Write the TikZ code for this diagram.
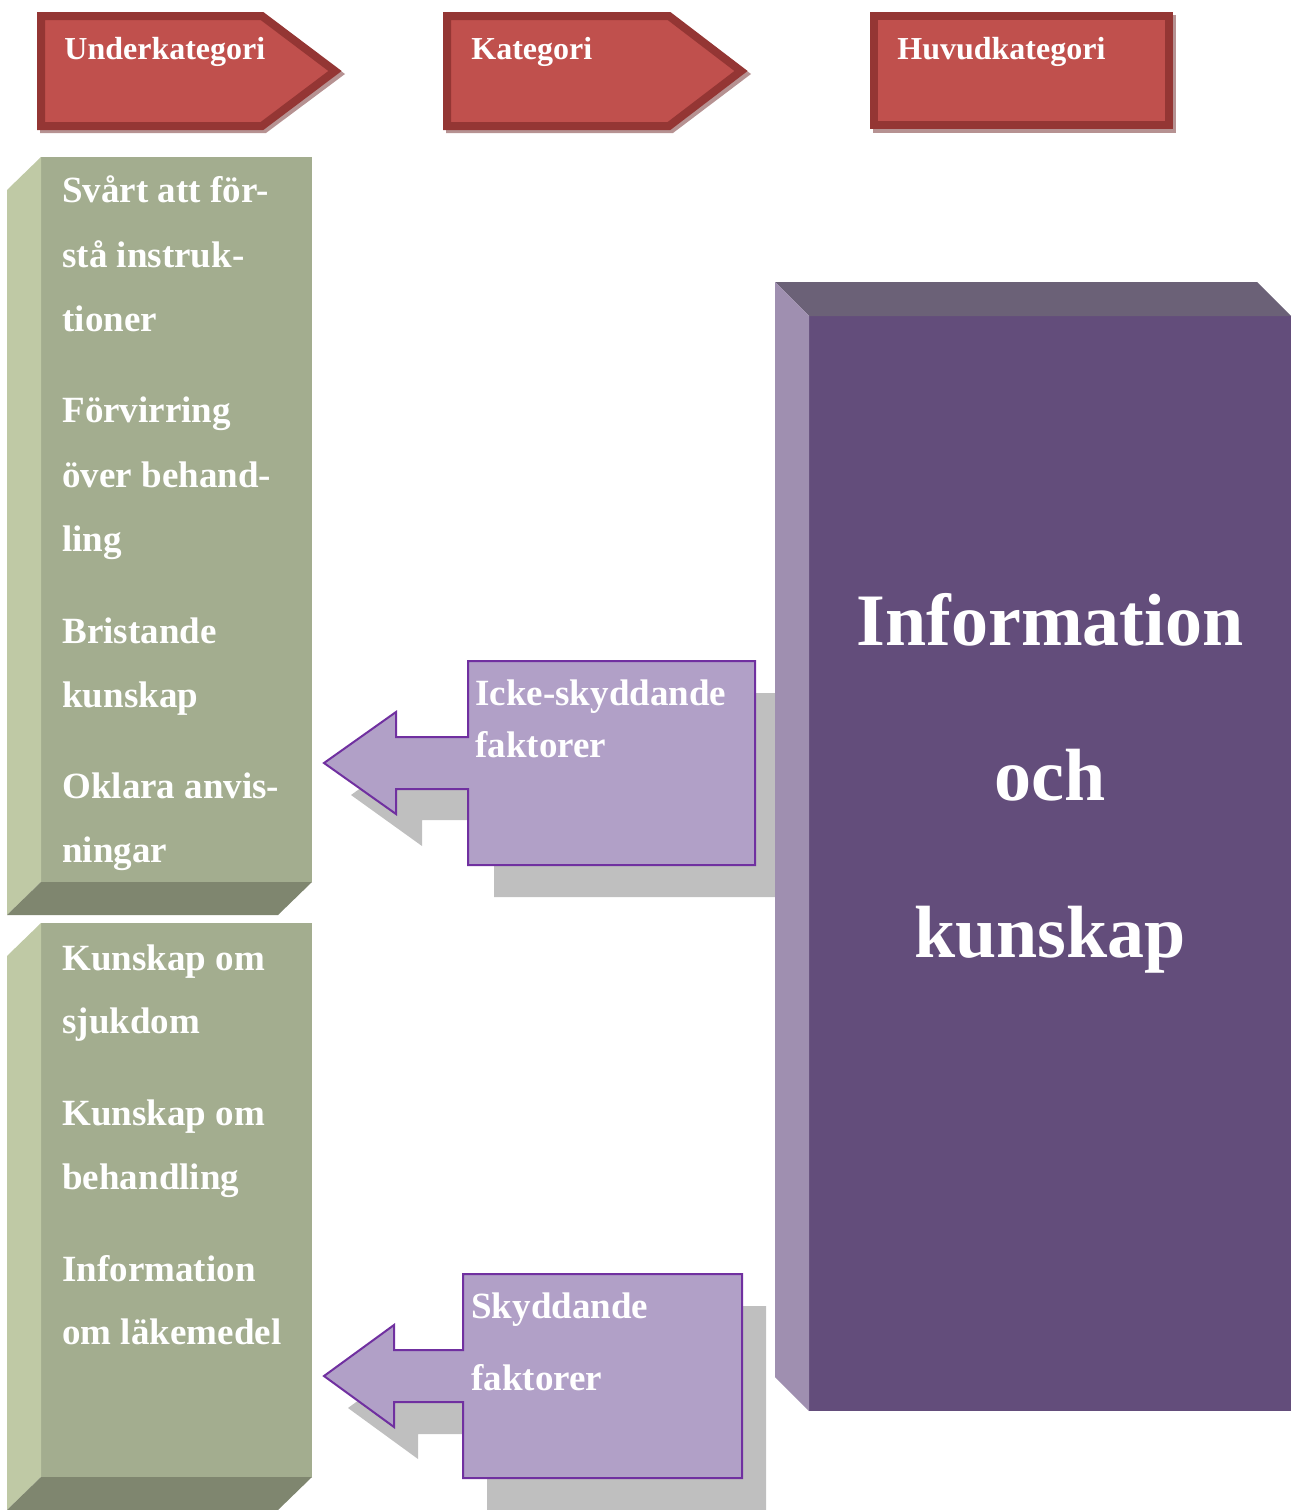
\documentclass[tikz,border=0pt]{standalone}
\usepackage{fontspec}
\setmainfont{Liberation Serif}
\definecolor{hdrfill}{HTML}{C0504D}
\definecolor{hdrline}{HTML}{943634}
\definecolor{hdrgrey}{RGB}{182,146,146}
\definecolor{grnfront}{HTML}{A3AD8F}
\definecolor{grnside}{HTML}{BFC9A5}
\definecolor{grnbottom}{HTML}{7F866F}
\definecolor{vioFront}{HTML}{634D7B}
\definecolor{vioTop}{HTML}{6B6177}
\definecolor{vioSide}{HTML}{9F8FB0}
\definecolor{callfill}{HTML}{B1A0C7}
\definecolor{callline}{HTML}{7030A0}
\definecolor{dropgrey}{HTML}{BFBFBF}
\tikzset{
  hdrtext/.style={anchor=base west, inner sep=0pt, text=white, font=\fontsize{16}{19}\selectfont\bfseries},
  itemtext/.style={anchor=base west, inner sep=0pt, text=white, font=\fontsize{18.5}{22}\selectfont\bfseries},
  bigtext/.style={anchor=base, inner sep=0pt, text=white, font=\fontsize{37}{44}\selectfont\bfseries},
  hdrshape/.style={fill=hdrfill, draw=hdrline, line width=4pt, miter limit=10},
  callshape/.style={fill=callfill, draw=callline, line width=1pt},
}
\begin{document}
\begin{tikzpicture}[x=0.5pt,y=-0.5pt]
\useasboundingbox (0,0) rectangle (1292,1510);

% ---- header tags ----
\fill[hdrgrey] (40,15) -- (266,15) -- (345,74) -- (266,133) -- (40,133) -- cycle;
\draw[hdrshape] (41,16) -- (262,16) -- (335,71) -- (262,126) -- (41,126) -- cycle;
\node[hdrtext] (hUnder) at (64,59) {Underkategori};

\fill[hdrgrey] (446,15) -- (673,15) -- (751,74) -- (673,133) -- (446,133) -- cycle;
\draw[hdrshape] (447,16) -- (669,16) -- (741,71) -- (669,126) -- (447,126) -- cycle;
\node[hdrtext] (hKat) at (471,59) {Kategori};

\fill[hdrgrey] (873,15) rectangle (1176,133);
\draw[hdrshape] (874,16) rectangle (1169,125);
\node[hdrtext] (hHuvud) at (897,59) {Huvudkategori};

% ---- green blocks ----
\fill[grnfront] (41,157) rectangle (312,882);
\fill[grnside] (7,190) -- (41,157) -- (41,882) -- (7,915) -- cycle;
\fill[grnbottom] (41,882) -- (312,882) -- (278,915) -- (7,915) -- cycle;

\fill[grnfront] (41,923) rectangle (312,1477);
\fill[grnside] (7,956) -- (41,923) -- (41,1477) -- (7,1510) -- cycle;
\fill[grnbottom] (41,1477) -- (312,1477) -- (278,1510) -- (7,1510) -- cycle;

\node[itemtext] (a1) at (62,202) {Svårt att för-};
\node[itemtext] (a2) at (62,267) {stå instruk-};
\node[itemtext] (a3) at (62,331) {tioner};
\node[itemtext] (b1) at (62,422) {Förvirring};
\node[itemtext] (b2) at (62,487) {över behand-};
\node[itemtext] (b3) at (62,551) {ling};
\node[itemtext] (c1) at (62,643) {Bristande};
\node[itemtext] (c2) at (62,707) {kunskap};
\node[itemtext] (d1) at (62,798) {Oklara anvis-};
\node[itemtext] (d2) at (62,862) {ningar};

\node[itemtext] (e1) at (62,970) {Kunskap om};
\node[itemtext] (e2) at (62,1033) {sjukdom};
\node[itemtext] (f1) at (62,1125) {Kunskap om};
\node[itemtext] (f2) at (62,1189) {behandling};
\node[itemtext] (g1) at (62,1281) {Information};
\node[itemtext] (g2) at (62,1344) {om läkemedel};

% ---- callout drop shadows ----
\fill[dropgrey] (422,739) -- (494,739) -- (494,693) -- (782,693) -- (782,897) -- (494,897)
  -- (494,820) -- (422,820) -- (422,846) -- (351,795) -- (422,744) -- cycle;
\fill[dropgrey] (418,1382) -- (487,1382) -- (487,1306) -- (766,1306) -- (766,1510) -- (487,1510)
  -- (487,1434) -- (418,1434) -- (418,1459) -- (348,1408) -- (418,1357) -- cycle;

% ---- main category block ----
\fill[vioFront] (809,316) rectangle (1291,1411);
\fill[vioTop] (775,282) -- (1257,282) -- (1291,316) -- (809,316) -- cycle;
\fill[vioSide] (775,282) -- (809,316) -- (809,1411) -- (775,1377) -- cycle;
\node[bigtext] (m1) at (1050,645) {Information};
\node[bigtext] (m2) at (1050,800) {och};
\node[bigtext] (m3) at (1050,957) {kunskap};

% ---- callouts ----
\draw[callshape] (468,661) -- (755,661) -- (755,865) -- (468,865) -- (468,789) -- (396,789)
  -- (396,814) -- (324,763) -- (396,712) -- (396,737) -- (468,737) -- cycle;
\node[itemtext] (k1) at (475,705) {Icke-skyddande};
\node[itemtext] (k2) at (475,757) {faktorer};

\draw[callshape] (463,1274) -- (742,1274) -- (742,1478) -- (463,1478) -- (463,1402) -- (394,1402)
  -- (394,1427) -- (324,1376) -- (394,1325) -- (394,1350) -- (463,1350) -- cycle;
\node[itemtext] (s1) at (471,1318) {Skyddande};
\node[itemtext] (s2) at (471,1390) {faktorer};
\end{tikzpicture}
\end{document}
